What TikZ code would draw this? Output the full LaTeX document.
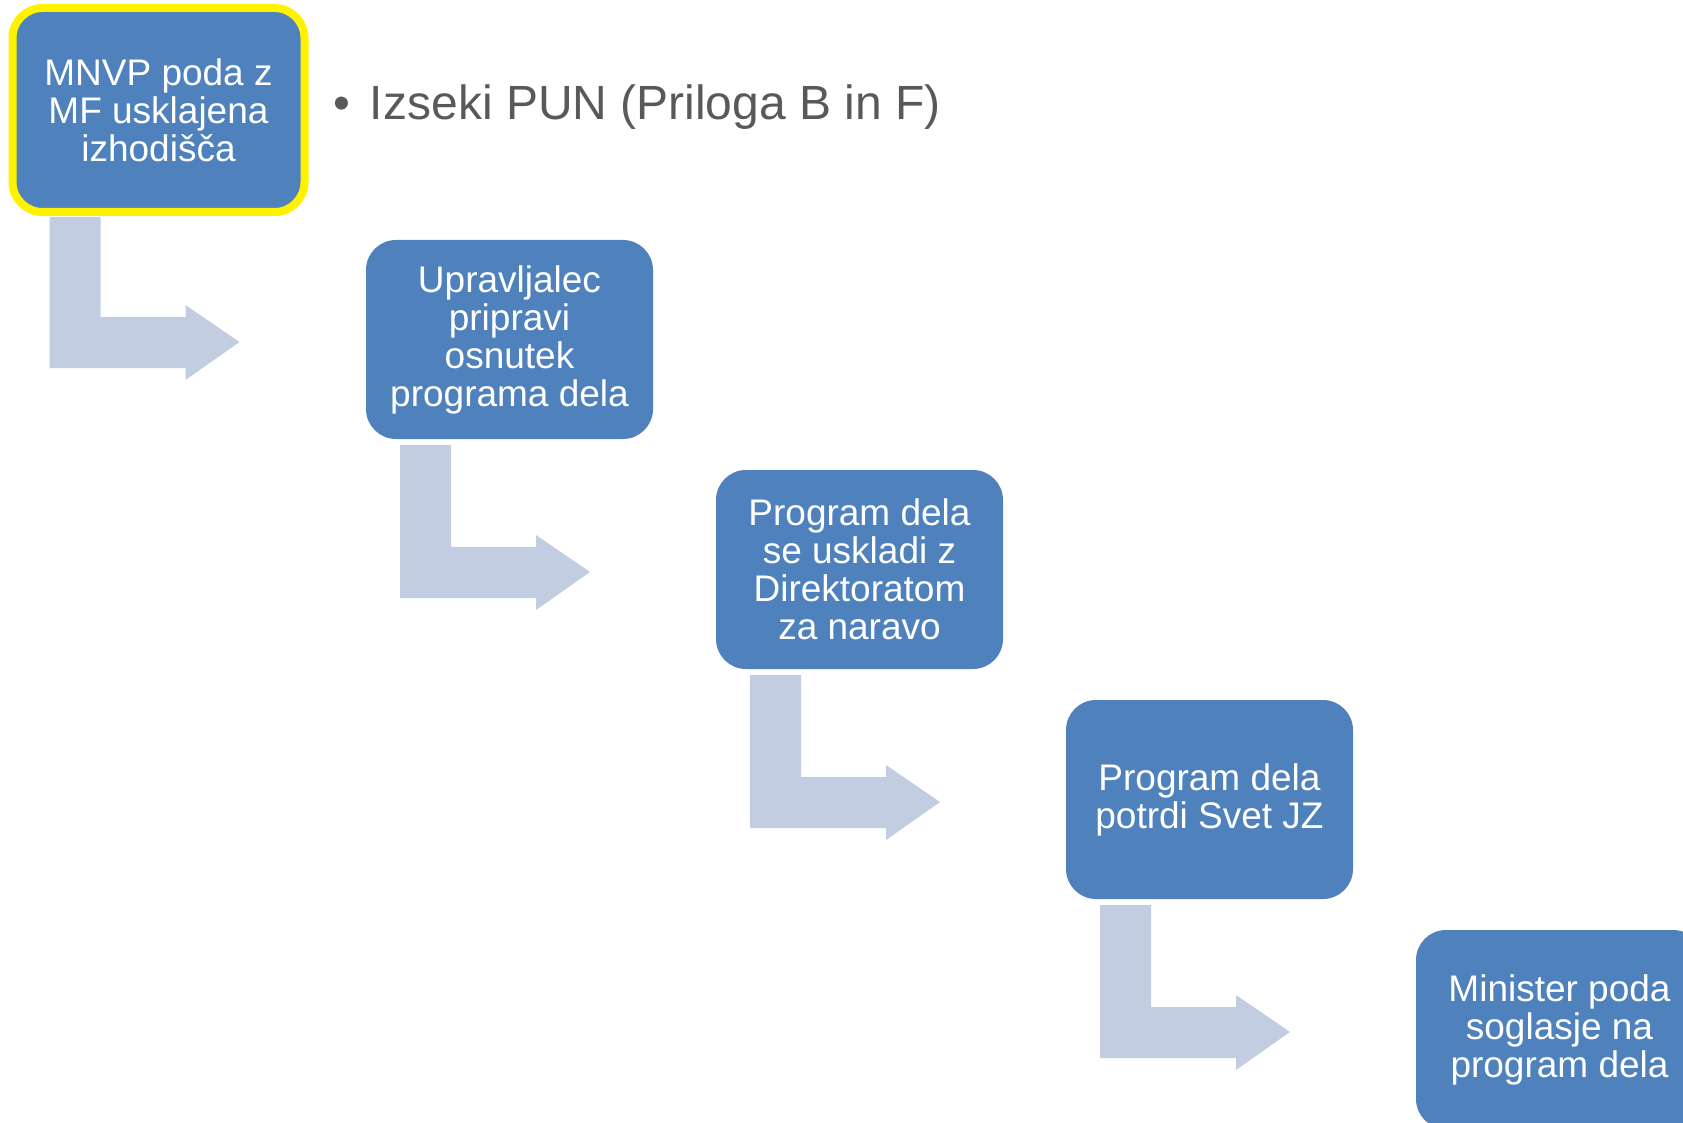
\documentclass[tikz,border=0pt]{standalone}
\usepackage{fontspec}
\setmainfont{Liberation Sans}
\definecolor{modra}{HTML}{4F81BD}
\definecolor{svetla}{HTML}{C3CDE1}
\definecolor{siva}{HTML}{595959}
\begin{document}
\begin{tikzpicture}[x=1pt, y=-1pt]
\tikzset{korak/.style={fill=modra, rounded corners=30pt, minimum width=287pt, minimum height=199pt, inner sep=0pt, outer sep=0pt, text=white, align=center, font=\fontsize{37}{38}\selectfont}}
\tikzset{pusica/.style={fill=svetla}}
\useasboundingbox (0, 0) rectangle (1683, 1123);
\clip (0, 0) rectangle (1683, 1123);
\node[korak, draw=yellow, line width=8pt, minimum width=292pt, minimum height=204pt] (K1) at (158.5, 110) {MNVP poda z\\MF usklajena\\izhodišča};
\node[korak] (K2) at (509.5, 339.5) {Upravljalec\\pripravi\\osnutek\\programa dela};
\node[korak] (K3) at (859.5, 569.5) {Program dela\\se uskladi z\\Direktoratom\\za naravo};
\node[korak] (K4) at (1209.5, 799.5) {Program dela\\potrdi Svet JZ};
\node[korak] (K5) at (1559.5, 1029.5) {Minister poda\\soglasje na\\program dela};
\node[anchor=base west, inner sep=0pt, text=siva, font=\fontsize{48}{52}\selectfont] (PUN) at (333, 120) {•\hspace{20pt}Izseki PUN (Priloga B in F)};
\fill[pusica, shift={(K1.south west)}] (37, 5) -- (88, 5) -- (88, 105) -- (173, 105) -- (173, 93) -- (227, 130) -- (173, 168) -- (173, 156) -- (37, 156) -- cycle;
\fill[pusica, shift={(K2.south west)}] (34, 6) -- (85, 6) -- (85, 108) -- (170, 108) -- (170, 96) -- (224, 133) -- (170, 171) -- (170, 159) -- (34, 159) -- cycle;
\fill[pusica, shift={(K3.south west)}] (34, 6) -- (85, 6) -- (85, 108) -- (170, 108) -- (170, 96) -- (224, 133) -- (170, 171) -- (170, 159) -- (34, 159) -- cycle;
\fill[pusica, shift={(K4.south west)}] (34, 6) -- (85, 6) -- (85, 108) -- (170, 108) -- (170, 96) -- (224, 133) -- (170, 171) -- (170, 159) -- (34, 159) -- cycle;
\end{tikzpicture}
\end{document}
